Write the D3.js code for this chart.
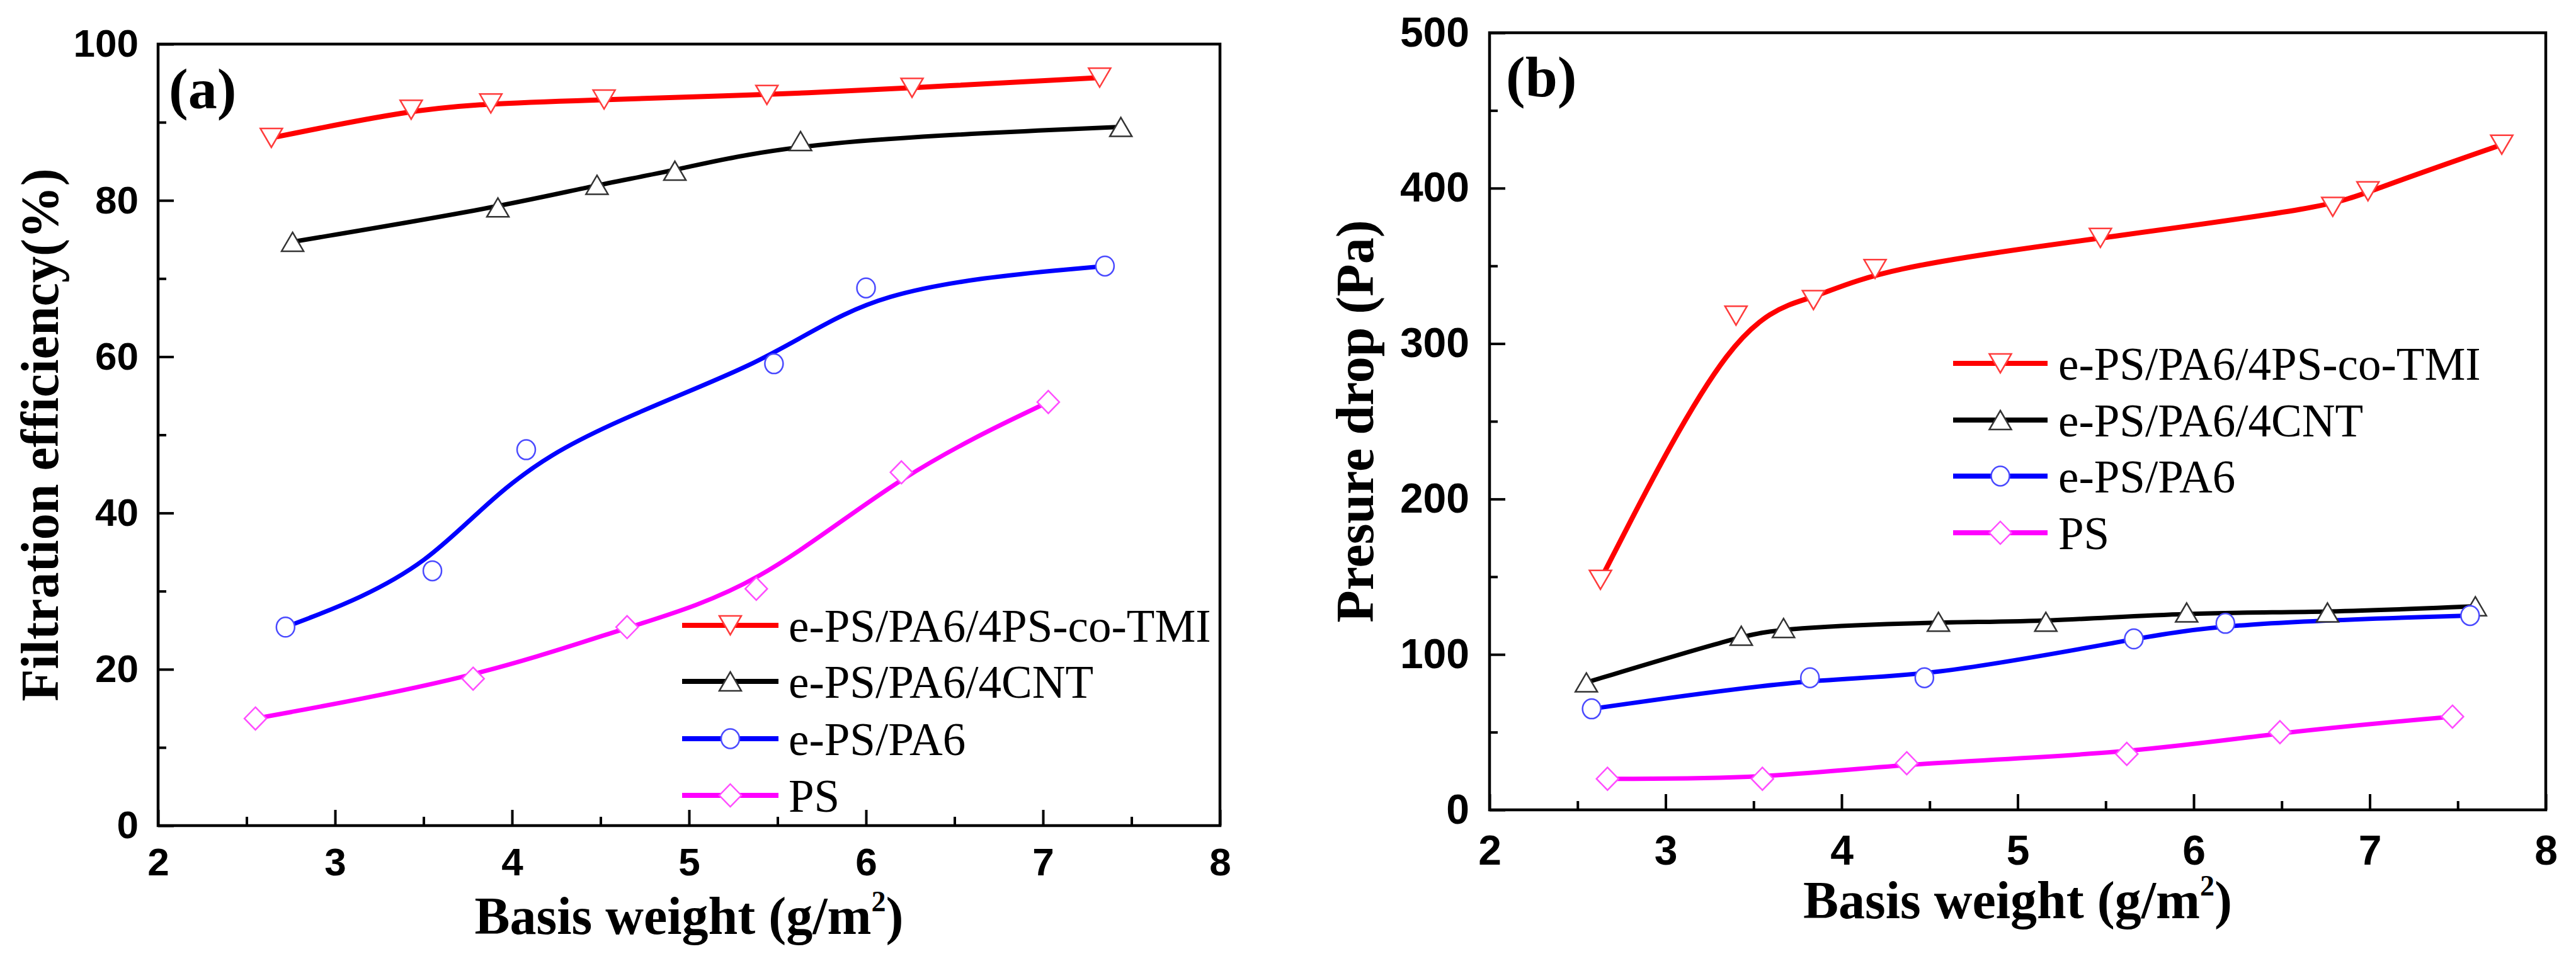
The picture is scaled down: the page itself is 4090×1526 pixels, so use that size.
<!DOCTYPE html>
<html>
<head>
<meta charset="utf-8">
<script src="https://cdn.jsdelivr.net/npm/d3@7/dist/d3.min.js"></script>
<style>
  html, body { margin: 0; padding: 0; background: #fff; }
  svg { display: block; font-family: "Liberation Serif", "Times New Roman", serif; }
</style>
</head>
<body>
<svg id="chart" width="4090" height="1526"></svg>
<script>
// ---------------- DATA ----------------
const seriesNames = ["e-PS/PA6/4PS-co-TMI", "e-PS/PA6/4CNT", "e-PS/PA6", "PS"];
const xTicks = [2, 3, 4, 5, 6, 7, 8];
const xMinorTicks = [2.5, 3.5, 4.5, 5.5, 6.5, 7.5];
const yTicksA = [0, 20, 40, 60, 80, 100];
const yMinorTicksA = [10, 30, 50, 70, 90];
const yTicksB = [0, 100, 200, 300, 400, 500];
const yMinorTicksB = [50, 150, 250, 350, 450];

// Panel (a): filtration efficiency (%)
const aTmiX = [2.64, 3.43, 3.88, 4.52, 5.44, 6.26, 7.32];
const aTmiY = [88.0, 91.6, 92.4, 92.9, 93.5, 94.4, 95.7];
const aCntX = [2.76, 3.92, 4.48, 4.92, 5.63, 7.44];
const aCntY = [74.7, 79.1, 82.0, 83.8, 87.6, 89.4];
const aPa6X = [2.72, 3.55, 4.08, 5.48, 6.00, 7.35];
const aPa6Y = [25.4, 32.6, 48.1, 59.1, 68.8, 71.6];
const aPsX  = [2.55, 3.78, 4.65, 5.38, 6.20, 7.03];
const aPsY  = [13.7, 18.8, 25.4, 30.3, 45.2, 54.2];

// Panel (b): pressure drop (Pa)
const bTmiX = [2.63, 3.40, 3.84, 4.19, 5.47, 6.79, 6.99, 7.75];
const bTmiY = [148, 318, 328, 348, 368, 388, 398, 428];
const bCntX = [2.55, 3.43, 3.67, 4.55, 5.16, 5.96, 6.76, 7.60];
const bCntY = [82, 112, 117, 121, 121, 127, 127, 131];
const bPa6X = [2.58, 3.82, 4.47, 5.66, 6.18, 7.57];
const bPa6Y = [65, 85, 85, 110, 120, 125];
const bPsX  = [2.67, 3.55, 4.37, 5.62, 6.49, 7.47];
const bPsY  = [20, 20, 30, 36, 50, 60];

const lineColors   = ["#ff0000", "#000000", "#0000ff", "#ff00ff"];
const markerColors = ["#ff3c3c", "#333333", "#4a4aff", "#ff4dff"];
const markerTypes  = ["down", "up", "circle", "diamond"];
const lineWidths   = [8, 7, 7, 7];

// ---------------- DRAWING ----------------
const svg = d3.select("#chart");

function markerPath(type) {
  if (type === "down") return "M-17.5,-15 L17.5,-15 L0,15 Z";
  if (type === "up") return "M0,-15 L17.5,15 L-17.5,15 Z";
  if (type === "diamond") return "M0,-18 L17.5,0 L0,18 L-17.5,0 Z";
  return null;
}

function drawMarker(g, type, color, cx, cy) {
  if (type === "circle") {
    g.append("ellipse").attr("cx", cx).attr("cy", cy).attr("rx", 14.5).attr("ry", 15.5)
      .attr("fill", "#fff").attr("stroke", color).attr("stroke-width", 2.5);
  } else {
    g.append("path").attr("d", markerPath(type))
      .attr("transform", `translate(${cx},${cy})`)
      .attr("fill", "#fff").attr("stroke", color).attr("stroke-width", 2.5)
      .attr("stroke-linejoin", "miter");
  }
}

function drawPanel(cfg) {
  const g = svg.append("g");
  const x = d3.scaleLinear().domain([2, 8]).range([cfg.left, cfg.right]);
  const y = d3.scaleLinear().domain(cfg.yDomain).range([cfg.bottom, cfg.top]);

  // X axis (bottom), inward ticks
  const xAxis = g.append("g").attr("transform", `translate(0,${cfg.bottom})`)
    .call(d3.axisBottom(x).tickValues(xTicks).tickSize(-25).tickPadding(cfg.xPad).tickFormat(d3.format("d")));
  xAxis.select(".domain").remove();
  xAxis.selectAll(".tick line").attr("stroke", "#000").attr("stroke-width", 4);
  xAxis.selectAll(".tick text").attr("font-size", cfg.tickFont).attr("font-weight", "bold")
    .attr("fill", "#000").attr("y", cfg.xPad).attr("dy", "0.71em");
  const xMinor = g.append("g").attr("transform", `translate(0,${cfg.bottom})`)
    .call(d3.axisBottom(x).tickValues(xMinorTicks).tickSize(-14).tickFormat(""));
  xMinor.select(".domain").remove();
  xMinor.selectAll(".tick line").attr("stroke", "#000").attr("stroke-width", 4);

  // Y axis (left), inward ticks
  const yAxis = g.append("g").attr("transform", `translate(${cfg.left},0)`)
    .call(d3.axisLeft(y).tickValues(cfg.yTicks).tickSize(-25).tickPadding(cfg.yPad).tickFormat(d3.format("d")));
  yAxis.select(".domain").remove();
  yAxis.selectAll(".tick line").attr("stroke", "#000").attr("stroke-width", 4);
  yAxis.selectAll(".tick text").attr("font-size", cfg.tickFont).attr("font-weight", "bold")
    .attr("fill", "#000").attr("x", -cfg.yPad);
  const yMinor = g.append("g").attr("transform", `translate(${cfg.left},0)`)
    .call(d3.axisLeft(y).tickValues(cfg.yMinor).tickSize(-13).tickFormat(""));
  yMinor.select(".domain").remove();
  yMinor.selectAll(".tick line").attr("stroke", "#000").attr("stroke-width", 4);

  // Frame
  g.append("rect").attr("x", cfg.left).attr("y", cfg.top)
    .attr("width", cfg.right - cfg.left).attr("height", cfg.bottom - cfg.top)
    .attr("fill", "none").attr("stroke", "#000").attr("stroke-width", 4.5);

  // Lines
  const line = d3.line().x(d => x(d[0])).y(d => y(d[1])).curve(d3.curveBasis);
  cfg.series.forEach((s, i) => {
    const pts = s.x.map((v, j) => [v, s.y[j]]);
    g.append("path").attr("d", line(pts)).attr("fill", "none")
      .attr("stroke", lineColors[i]).attr("stroke-width", lineWidths[i]).attr("stroke-linecap", "round");
  });
  // Markers
  cfg.series.forEach((s, i) => {
    s.x.forEach((v, j) => drawMarker(g, markerTypes[i], markerColors[i], x(v), y(s.y[j])));
  });

  // Legend
  seriesNames.forEach((name, i) => {
    const ry = cfg.legendRows[i];
    g.append("line").attr("x1", cfg.legX1).attr("x2", cfg.legX2).attr("y1", ry).attr("y2", ry)
      .attr("stroke", lineColors[i]).attr("stroke-width", 8);
    drawMarker(g, markerTypes[i], markerColors[i], (cfg.legX1 + cfg.legX2) / 2, ry);
    g.append("text").attr("x", cfg.legText).attr("y", ry).attr("dy", "0.35em")
      .attr("font-size", 73).attr("fill", "#000").text(name);
  });

  // Panel label
  g.append("text").attr("x", cfg.labelX).attr("y", cfg.labelY)
    .attr("font-size", 92).attr("font-weight", "bold").attr("fill", "#000").text(cfg.label);

  // Axis titles
  const xt = g.append("text").attr("x", (cfg.left + cfg.right) / 2).attr("y", cfg.xTitleY)
    .attr("text-anchor", "middle").attr("font-size", 84).attr("font-weight", "bold").attr("fill", "#000");
  xt.append("tspan").text("Basis weight (g/m");
  xt.append("tspan").attr("font-size", 46).attr("dy", -36).text("2");
  xt.append("tspan").attr("dy", 36).text(")");

  g.append("text")
    .attr("transform", `translate(${cfg.yTitleX},${(cfg.top + cfg.bottom) / 2}) rotate(-90)`)
    .attr("text-anchor", "middle").attr("font-size", 84).attr("font-weight", "bold")
    .attr("fill", "#000").text(cfg.yTitle);
}

drawPanel({
  left: 251, right: 1937, top: 70, bottom: 1311,
  yDomain: [0, 100], yTicks: yTicksA, yMinor: yMinorTicksA,
  tickFont: 62, xPad: 35, yPad: 31,
  series: [
    { x: aTmiX, y: aTmiY }, { x: aCntX, y: aCntY },
    { x: aPa6X, y: aPa6Y }, { x: aPsX, y: aPsY }
  ],
  legendRows: [993, 1082, 1173, 1263], legX1: 1083, legX2: 1236, legText: 1252,
  label: "(a)", labelX: 268, labelY: 172,
  xTitleY: 1483, yTitleX: 92, yTitle: "Filtration efficiency(%)"
});

drawPanel({
  left: 2365, right: 4042, top: 52, bottom: 1286,
  yDomain: [0, 500], yTicks: yTicksB, yMinor: yMinorTicksB,
  tickFont: 66, xPad: 40, yPad: 32,
  series: [
    { x: bTmiX, y: bTmiY }, { x: bCntX, y: bCntY },
    { x: bPa6X, y: bPa6Y }, { x: bPsX, y: bPsY }
  ],
  legendRows: [577, 667, 756, 846], legX1: 3101, legX2: 3251, legText: 3268,
  label: "(b)", labelX: 2391, labelY: 153,
  xTitleY: 1458, yTitleX: 2180, yTitle: "Presure drop (Pa)"
});
</script>
</body>
</html>
